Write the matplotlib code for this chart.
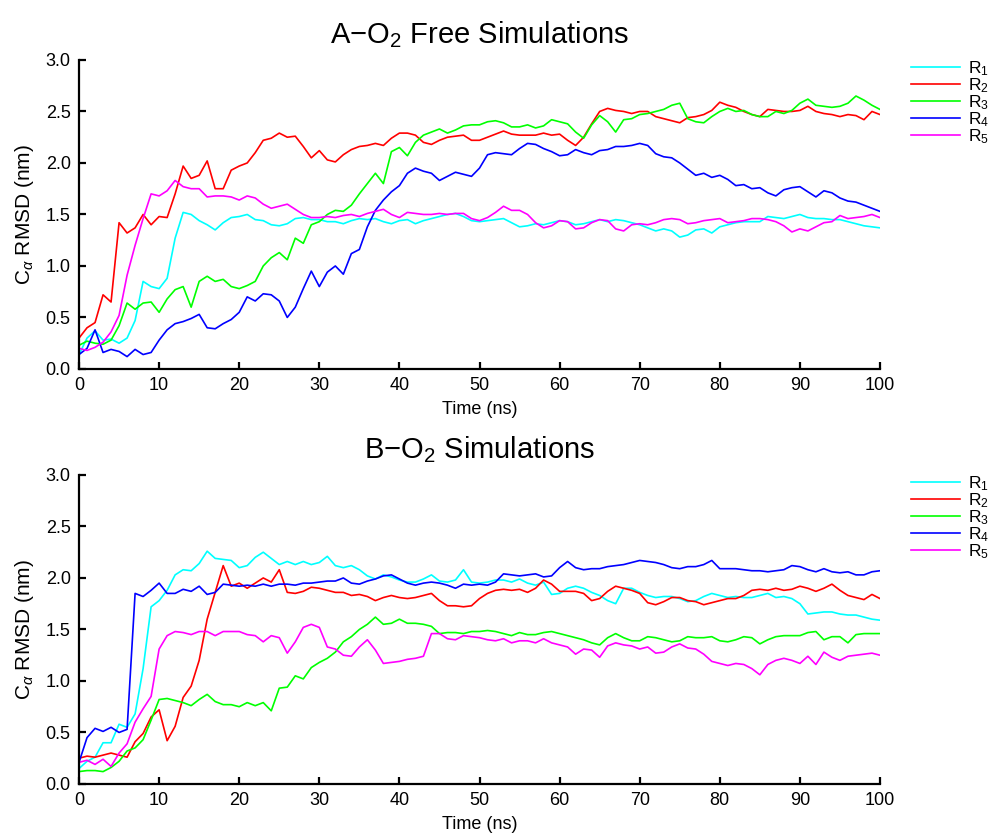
import numpy as np
import matplotlib
matplotlib.use("Agg")
import matplotlib.pyplot as plt
from matplotlib.ticker import FormatStrFormatter

plt.rcParams['font.family'] = ['Liberation Sans', 'DejaVu Sans']
plt.rcParams['mathtext.fontset'] = 'custom'
plt.rcParams['mathtext.rm'] = 'Liberation Sans'
plt.rcParams['mathtext.it'] = 'Liberation Sans:italic'
plt.rcParams['mathtext.sf'] = 'Liberation Sans'

# time grid (ns)
time_ns = np.arange(0, 101)

labels = ["R$_1$", "R$_2$", "R$_3$", "R$_4$", "R$_5$"]
colors = ["#00ffff", "#ff0000", "#00ff00", "#0000ff", "#ff00ff"]

titles = ["A\u2212O$_2$ Free Simulations", "B\u2212O$_2$ Simulations"]

# ---- Panel A: O2 free ----
a_r1 = [0.14, 0.30, 0.37, 0.28, 0.29, 0.25, 0.30, 0.47, 0.85, 0.80,
        0.78, 0.88, 1.27, 1.52, 1.50, 1.44, 1.40, 1.35, 1.42, 1.47,
        1.48, 1.50, 1.45, 1.44, 1.40, 1.39, 1.41, 1.46, 1.47, 1.45,
        1.45, 1.43, 1.43, 1.41, 1.44, 1.46, 1.45, 1.46, 1.43, 1.41,
        1.44, 1.45, 1.41, 1.44, 1.46, 1.48, 1.50, 1.51, 1.48, 1.44,
        1.43, 1.44, 1.45, 1.46, 1.42, 1.38, 1.39, 1.41, 1.40, 1.42,
        1.44, 1.43, 1.40, 1.41, 1.43, 1.45, 1.43, 1.45, 1.44, 1.42,
        1.40, 1.37, 1.34, 1.36, 1.34, 1.28, 1.30, 1.35, 1.36, 1.32,
        1.38, 1.40, 1.42, 1.43, 1.43, 1.43, 1.48, 1.47, 1.46, 1.48,
        1.50, 1.47, 1.46, 1.46, 1.45, 1.45, 1.43, 1.41, 1.39, 1.38, 1.37]
a_r2 = [0.30, 0.40, 0.45, 0.72, 0.65, 1.42, 1.32, 1.37, 1.50, 1.40,
        1.48, 1.47, 1.70, 1.97, 1.85, 1.88, 2.02, 1.75, 1.75, 1.93,
        1.97, 2.00, 2.10, 2.22, 2.24, 2.29, 2.25, 2.26, 2.16, 2.05,
        2.12, 2.03, 2.01, 2.08, 2.13, 2.16, 2.17, 2.19, 2.17, 2.24,
        2.29, 2.29, 2.27, 2.20, 2.18, 2.22, 2.25, 2.26, 2.27, 2.22,
        2.22, 2.25, 2.28, 2.31, 2.28, 2.27, 2.27, 2.27, 2.29, 2.27,
        2.28, 2.22, 2.17, 2.25, 2.38, 2.50, 2.53, 2.51, 2.50, 2.48,
        2.50, 2.50, 2.45, 2.43, 2.41, 2.39, 2.44, 2.45, 2.47, 2.51,
        2.59, 2.56, 2.54, 2.50, 2.47, 2.45, 2.52, 2.51, 2.50, 2.50,
        2.51, 2.55, 2.50, 2.48, 2.47, 2.45, 2.47, 2.46, 2.42, 2.50, 2.47]
a_r3 = [0.23, 0.27, 0.25, 0.24, 0.28, 0.42, 0.64, 0.58, 0.64, 0.65,
        0.55, 0.68, 0.77, 0.80, 0.60, 0.85, 0.90, 0.85, 0.87, 0.80,
        0.78, 0.81, 0.85, 1.00, 1.08, 1.13, 1.06, 1.27, 1.22, 1.40,
        1.43, 1.50, 1.54, 1.53, 1.59, 1.70, 1.80, 1.90, 1.80, 2.11,
        2.15, 2.07, 2.20, 2.27, 2.30, 2.33, 2.29, 2.32, 2.36, 2.37,
        2.37, 2.40, 2.41, 2.39, 2.35, 2.35, 2.37, 2.34, 2.36, 2.42,
        2.40, 2.38, 2.30, 2.24, 2.37, 2.46, 2.40, 2.30, 2.42, 2.43,
        2.47, 2.48, 2.50, 2.52, 2.56, 2.58, 2.43, 2.40, 2.39, 2.45,
        2.50, 2.53, 2.50, 2.51, 2.47, 2.45, 2.45, 2.50, 2.48, 2.51,
        2.58, 2.62, 2.56, 2.55, 2.54, 2.55, 2.58, 2.65, 2.61, 2.56, 2.52]
a_r4 = [0.14, 0.20, 0.38, 0.16, 0.19, 0.17, 0.12, 0.19, 0.14, 0.16,
        0.28, 0.38, 0.44, 0.46, 0.49, 0.53, 0.40, 0.39, 0.44, 0.48,
        0.55, 0.70, 0.66, 0.73, 0.72, 0.66, 0.50, 0.60, 0.78, 0.95,
        0.80, 0.94, 1.00, 0.92, 1.12, 1.16, 1.38, 1.54, 1.64, 1.72,
        1.78, 1.90, 1.95, 1.92, 1.90, 1.83, 1.87, 1.91, 1.89, 1.87,
        1.95, 2.08, 2.10, 2.09, 2.08, 2.14, 2.19, 2.18, 2.14, 2.11,
        2.07, 2.08, 2.13, 2.10, 2.08, 2.12, 2.13, 2.16, 2.16, 2.17,
        2.19, 2.17, 2.09, 2.06, 2.05, 2.00, 1.94, 1.88, 1.90, 1.86,
        1.88, 1.84, 1.78, 1.79, 1.75, 1.76, 1.71, 1.68, 1.74, 1.76,
        1.77, 1.72, 1.67, 1.73, 1.71, 1.66, 1.63, 1.62, 1.59, 1.56, 1.53]
a_r5 = [0.20, 0.18, 0.21, 0.26, 0.36, 0.52, 0.91, 1.20, 1.46, 1.70,
        1.68, 1.73, 1.83, 1.77, 1.75, 1.75, 1.67, 1.68, 1.68, 1.67,
        1.64, 1.68, 1.66, 1.60, 1.56, 1.58, 1.60, 1.55, 1.50, 1.47,
        1.47, 1.48, 1.47, 1.49, 1.50, 1.48, 1.51, 1.53, 1.55, 1.50,
        1.47, 1.52, 1.51, 1.50, 1.50, 1.51, 1.50, 1.51, 1.51, 1.46,
        1.44, 1.47, 1.52, 1.58, 1.54, 1.54, 1.50, 1.42, 1.37, 1.39,
        1.44, 1.43, 1.36, 1.37, 1.42, 1.45, 1.44, 1.36, 1.34, 1.40,
        1.41, 1.40, 1.42, 1.45, 1.46, 1.45, 1.41, 1.42, 1.44, 1.45,
        1.46, 1.42, 1.43, 1.44, 1.46, 1.46, 1.45, 1.43, 1.39, 1.33,
        1.36, 1.34, 1.38, 1.42, 1.43, 1.49, 1.46, 1.47, 1.48, 1.50, 1.47]

# ---- Panel B: O2 ----
b_r1 = [0.15, 0.22, 0.26, 0.40, 0.40, 0.58, 0.55, 0.68, 1.12, 1.72,
        1.78, 1.88, 2.03, 2.08, 2.07, 2.14, 2.26, 2.19, 2.18, 2.17,
        2.10, 2.12, 2.20, 2.25, 2.19, 2.13, 2.16, 2.13, 2.16, 2.13,
        2.15, 2.21, 2.12, 2.10, 2.12, 2.08, 2.02, 1.99, 2.03, 2.01,
        1.98, 1.96, 1.96, 1.99, 2.03, 1.97, 1.96, 1.98, 2.08, 1.96,
        1.95, 1.96, 1.98, 1.98, 1.96, 1.99, 1.95, 1.93, 1.96, 1.84,
        1.85, 1.90, 1.92, 1.90, 1.86, 1.83, 1.78, 1.75, 1.90, 1.90,
        1.86, 1.83, 1.81, 1.82, 1.82, 1.80, 1.77, 1.78, 1.82, 1.85,
        1.83, 1.81, 1.82, 1.81, 1.81, 1.83, 1.85, 1.81, 1.82, 1.80,
        1.75, 1.65, 1.66, 1.67, 1.67, 1.65, 1.64, 1.64, 1.62, 1.60, 1.59]
b_r2 = [0.25, 0.27, 0.26, 0.28, 0.30, 0.28, 0.26, 0.41, 0.49, 0.65,
        0.72, 0.42, 0.56, 0.84, 0.95, 1.20, 1.60, 1.86, 2.12, 1.92,
        1.95, 1.90, 1.95, 2.00, 1.96, 2.08, 1.86, 1.85, 1.87, 1.91,
        1.90, 1.88, 1.86, 1.86, 1.83, 1.84, 1.82, 1.78, 1.81, 1.83,
        1.81, 1.80, 1.81, 1.83, 1.85, 1.78, 1.73, 1.73, 1.72, 1.73,
        1.80, 1.85, 1.88, 1.89, 1.88, 1.89, 1.86, 1.90, 1.98, 1.94,
        1.87, 1.87, 1.87, 1.85, 1.78, 1.80, 1.87, 1.92, 1.90, 1.88,
        1.85, 1.76, 1.74, 1.77, 1.81, 1.81, 1.78, 1.77, 1.74, 1.76,
        1.78, 1.80, 1.80, 1.83, 1.88, 1.89, 1.88, 1.90, 1.88, 1.89,
        1.92, 1.90, 1.87, 1.90, 1.94, 1.88, 1.83, 1.81, 1.79, 1.84, 1.80]
b_r3 = [0.12, 0.13, 0.13, 0.12, 0.16, 0.22, 0.32, 0.35, 0.43, 0.62,
        0.82, 0.83, 0.81, 0.79, 0.76, 0.82, 0.87, 0.80, 0.77, 0.77,
        0.75, 0.79, 0.76, 0.79, 0.71, 0.93, 0.94, 1.05, 1.02, 1.13,
        1.18, 1.22, 1.28, 1.38, 1.43, 1.50, 1.55, 1.62, 1.55, 1.56,
        1.60, 1.56, 1.56, 1.55, 1.53, 1.46, 1.47, 1.47, 1.46, 1.48,
        1.48, 1.49, 1.48, 1.46, 1.44, 1.47, 1.45, 1.45, 1.47, 1.48,
        1.46, 1.44, 1.42, 1.40, 1.37, 1.35, 1.42, 1.46, 1.42, 1.39,
        1.39, 1.43, 1.42, 1.40, 1.38, 1.39, 1.43, 1.42, 1.42, 1.43,
        1.39, 1.38, 1.40, 1.43, 1.42, 1.36, 1.40, 1.43, 1.44, 1.44,
        1.44, 1.47, 1.48, 1.40, 1.43, 1.43, 1.37, 1.45, 1.46, 1.46, 1.46]
b_r4 = [0.21, 0.45, 0.54, 0.51, 0.55, 0.50, 0.53, 1.85, 1.82, 1.88,
        1.95, 1.85, 1.85, 1.89, 1.87, 1.92, 1.84, 1.86, 1.94, 1.93,
        1.92, 1.93, 1.92, 1.94, 1.92, 1.94, 1.94, 1.93, 1.95, 1.95,
        1.96, 1.97, 1.97, 2.00, 1.95, 1.94, 1.97, 1.99, 2.02, 2.03,
        1.99, 1.95, 1.93, 1.95, 1.96, 1.95, 1.93, 1.90, 1.94, 1.93,
        1.94, 1.93, 1.96, 2.04, 2.03, 2.02, 2.03, 2.04, 2.01, 2.02,
        2.10, 2.16, 2.10, 2.08, 2.09, 2.09, 2.11, 2.12, 2.13, 2.15,
        2.17, 2.16, 2.15, 2.13, 2.10, 2.09, 2.11, 2.11, 2.13, 2.17,
        2.09, 2.09, 2.09, 2.08, 2.07, 2.07, 2.06, 2.07, 2.08, 2.12,
        2.11, 2.08, 2.06, 2.09, 2.06, 2.05, 2.06, 2.03, 2.03, 2.06, 2.07]
b_r5 = [0.21, 0.23, 0.19, 0.24, 0.17, 0.30, 0.39, 0.60, 0.73, 0.85,
        1.31, 1.44, 1.48, 1.47, 1.45, 1.48, 1.48, 1.44, 1.48, 1.48,
        1.48, 1.45, 1.44, 1.38, 1.44, 1.42, 1.27, 1.38, 1.52, 1.55,
        1.52, 1.33, 1.31, 1.25, 1.24, 1.33, 1.40, 1.30, 1.17, 1.18,
        1.19, 1.21, 1.22, 1.24, 1.46, 1.46, 1.41, 1.40, 1.44, 1.43,
        1.42, 1.40, 1.39, 1.41, 1.37, 1.39, 1.39, 1.37, 1.41, 1.37,
        1.35, 1.33, 1.26, 1.31, 1.30, 1.23, 1.34, 1.37, 1.35, 1.34,
        1.31, 1.33, 1.27, 1.28, 1.33, 1.36, 1.32, 1.31, 1.26, 1.19,
        1.17, 1.15, 1.17, 1.16, 1.12, 1.06, 1.16, 1.20, 1.22, 1.20,
        1.17, 1.24, 1.16, 1.28, 1.23, 1.20, 1.24, 1.25, 1.26, 1.27, 1.25]

panels = [[a_r1, a_r2, a_r3, a_r4, a_r5], [b_r1, b_r2, b_r3, b_r4, b_r5]]

fig = plt.figure(figsize=(9.94, 8.34), dpi=100)
axes_rects = [[0.0795, 0.5576, 0.8058, 0.3705], [0.0795, 0.0600, 0.8058, 0.3705]]

for rect, series, title in zip(axes_rects, panels, titles):
    ax = fig.add_axes(rect)
    for vals, lab, col in zip(series, labels, colors):
        ax.plot(time_ns, vals, color=col, lw=1.2, label=lab)
    ax.set_xlim(0, 100)
    ax.set_ylim(0, 3.0)
    ax.set_xticks(np.arange(0, 101, 10))
    ax.set_yticks(np.arange(0, 3.01, 0.5))
    ax.yaxis.set_major_formatter(FormatStrFormatter('%.1f'))
    for s in ['top', 'right']:
        ax.spines[s].set_visible(False)
    for s in ['left', 'bottom']:
        ax.spines[s].set_linewidth(1.6)
    ax.tick_params(direction='in', length=5, width=1.6, labelsize=13, pad=6)
    ax.set_xlabel('Time (ns)', fontsize=13, labelpad=5)
    ax.set_ylabel('C$_\\alpha$ RMSD (nm)', fontsize=15, labelpad=7)
    ax.set_title(title, fontsize=21, pad=12)
    ax.legend(loc='upper left', bbox_to_anchor=(1.03, 1.025), frameon=False,
              fontsize=12.5, handlelength=2.8, handletextpad=0.5,
              labelspacing=-0.1, borderaxespad=0.0)

fig.savefig('out.png', dpi=100)
